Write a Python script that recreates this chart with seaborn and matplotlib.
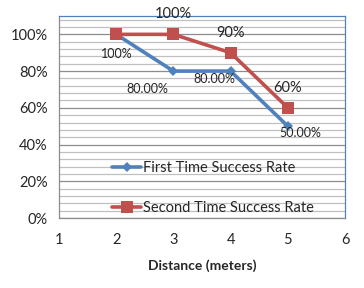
import matplotlib.pyplot as plt
import pandas as pd
import seaborn as sns
from matplotlib.ticker import MultipleLocator, PercentFormatter

distance = [2, 3, 4, 5]
first_rate = [1.0, 0.8, 0.8, 0.5]
second_rate = [1.0, 1.0, 0.9, 0.6]
first_labels = ["100%", "80.00%", "80.00%", "50.00%"]
second_labels = [None, "100%", "90%", "60%"]
series_names = ["First Time Success Rate", "Second Time Success Rate"]

df = pd.DataFrame(
    {
        "Distance": distance * 2,
        "Rate": first_rate + second_rate,
        "Series": [series_names[0]] * 4 + [series_names[1]] * 4,
    }
)

sns.set_style("white")
plt.rcParams["font.family"] = ["Lato", "DejaVu Sans"]

blue = "#4F81BD"
red = "#C0504D"

fig = plt.figure(figsize=(3.64, 2.88), dpi=100)
ax = fig.add_axes([59 / 364, 1 - 218 / 288, (345 - 59) / 364, (218 - 16) / 288])

sns.lineplot(
    data=df,
    x="Distance",
    y="Rate",
    hue="Series",
    style="Series",
    markers={series_names[0]: "D", series_names[1]: "s"},
    dashes=False,
    palette={series_names[0]: blue, series_names[1]: red},
    linewidth=2.6,
    markersize=7,
    markeredgewidth=0,
    ax=ax,
    zorder=3,
)
# diamond a bit smaller than the square
for ln in ax.lines:
    if ln.get_marker() == "D":
        ln.set_markersize(5.5)
    else:
        ln.set_markersize(8)

ax.set_xlim(1, 6)
ax.set_ylim(0, 1.1)
ax.xaxis.set_major_locator(MultipleLocator(1))
ax.set_yticks([0, 0.2, 0.4, 0.6, 0.8, 1.0])
ax.yaxis.set_minor_locator(MultipleLocator(0.04))
ax.yaxis.set_major_formatter(PercentFormatter(1.0, decimals=0))
ax.grid(axis="y", which="minor", color="#C0C0C0", linewidth=0.9)
ax.grid(axis="y", which="major", color="#8C8C8C", linewidth=0.9)
ax.set_axisbelow(True)
ax.tick_params(axis="both", which="major", direction="out", length=5, width=0.9,
               color="#8C8C8C", labelsize=10.5, pad=3)
ax.tick_params(axis="y", which="minor", length=0)
ax.tick_params(axis="x", pad=6)
for side in ["left", "bottom"]:
    ax.spines[side].set_color("#8C8C8C")
    ax.spines[side].set_linewidth(0.9)
for side in ["top", "right"]:
    ax.spines[side].set_color(blue)
    ax.spines[side].set_linewidth(0.9)

ax.set_ylabel("")
ax.set_xlabel("Distance (meters)", fontsize=10, fontweight="bold", labelpad=9)

first_offsets = [(1, -20), (-26, -18), (-16, -8), (12, -7)]
for x, y, lab, off in zip(distance, first_rate, first_labels, first_offsets):
    ax.annotate(lab, (x, y), xytext=off, textcoords="offset pixels",
                ha="center", va="center", fontsize=9, zorder=5)
for x, y, lab in zip(distance, second_rate, second_labels):
    if lab:
        ax.annotate(lab, (x, y), xytext=(0, 20), textcoords="offset pixels",
                    ha="center", va="center", fontsize=10.5, zorder=5,
                    annotation_clip=False)

leg = ax.legend(loc="lower left", bbox_to_anchor=(0.15, -0.035), frameon=False,
                fontsize=10.5, labelspacing=1.8, handlelength=2.0,
                handletextpad=0.1, borderpad=0.2)
for h in leg.legend_handles:
    h.set_linewidth(2.6)

fig.savefig("out.png", dpi=100)
